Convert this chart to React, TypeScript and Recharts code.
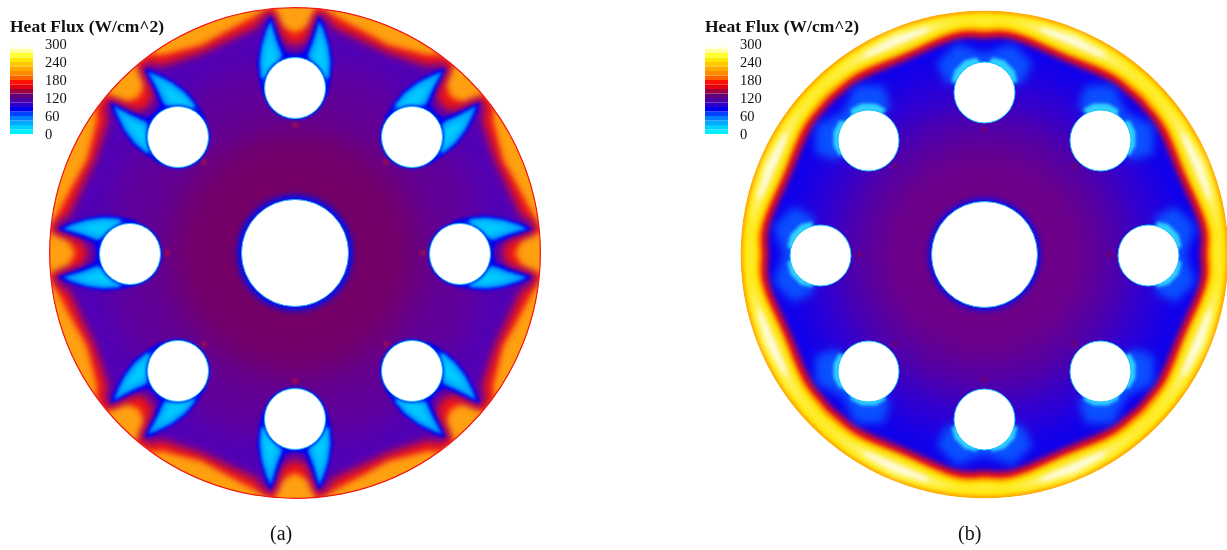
import { Bar, BarChart, Scatter, ScatterChart, XAxis, YAxis, ZAxis } from 'recharts';

type Pt = number[];

// legend
const legendTicks = [0, 60, 120, 180, 240, 300];
const legendSteps = [15, 15, 15, 15, 15, 15, 15, 15, 15, 15, 15, 15, 15, 15, 15, 15, 15, 15, 15, 15];
const legendColors = ['#00eeff', '#00d0ff', '#00a8ff', '#0080ff', '#0040ff', '#0000f0', '#2c00c8', '#4c00a0', '#600078', '#a00040', '#e00010', '#ff1000', '#ff6000', '#ff8c00', '#ffa800', '#ffc800', '#ffe800', '#ffff30', '#ffffa0', '#fffff4'];

// contour outlines, pixels from the disc centre (y down)
const holesA: Pt[] = [[0, -165], [117, -116], [165, 1], [117, 118], [0, 166], [-117, 118], [-165, 1], [-117, -116]];
const holesB: Pt[] = [[0, -162], [116, -114], [164, 1], [116, 117], [0, 165], [-116, 117], [-164, 1], [-116, -114]];
const spotsA: Pt[] = [[0, -128], [91, -91], [128, 0], [91, 91], [0, 128], [-91, 91], [-128, 0], [-91, -91]];
const spotsB: Pt[] = [[0, -125], [89, -88], [125, 0], [89, 89], [0, 125], [-89, 89], [-125, 0], [-89, -88]];

const redRingA: Pt[] = [
  [0, -220], [12, -226], [22, -248], [38, -238], [68, -222], [93, -208], [133, -198], [145, -199], [160, -191], [151, -168], [156, -156], [168, -151], [191, -160], [199, -145], [198, -133], [208, -93], [222, -68], [238, -38], [248, -22], [226, -12], [220, 0],
  [226, 12], [248, 22], [238, 38], [222, 68], [208, 93], [198, 133], [199, 145], [191, 160], [168, 151], [156, 156], [151, 168], [160, 191], [145, 199], [133, 198], [93, 208], [68, 222], [38, 238], [22, 248], [12, 226], [0, 220],
  [-12, 226], [-22, 248], [-38, 238], [-68, 222], [-93, 208], [-133, 198], [-145, 199], [-160, 191], [-151, 168], [-156, 156], [-168, 151], [-191, 160], [-199, 145], [-198, 133], [-208, 93], [-222, 68], [-238, 38], [-248, 22], [-226, 12], [-220, 0],
  [-226, -12], [-248, -22], [-238, -38], [-222, -68], [-208, -93], [-198, -133], [-199, -145], [-191, -160], [-168, -151], [-156, -156], [-151, -168], [-160, -191], [-145, -199], [-133, -198], [-93, -208], [-68, -222], [-38, -238], [-22, -248], [-12, -226],
];
const purpleRingA: Pt[] = [
  [0, -206], [12, -212], [22, -240], [30, -238], [38, -226], [68, -212], [93, -200], [133, -187], [147, -190], [154, -185], [141, -158], [146, -146], [158, -141], [185, -154], [190, -147], [187, -133], [200, -93], [212, -68], [226, -38], [238, -30], [240, -22], [212, -12], [206, 0],
  [212, 12], [240, 22], [238, 30], [226, 38], [212, 68], [200, 93], [187, 133], [190, 147], [185, 154], [158, 141], [146, 146], [141, 158], [154, 185], [147, 190], [133, 187], [93, 200], [68, 212], [38, 226], [30, 238], [22, 240], [12, 212], [0, 206],
  [-12, 212], [-22, 240], [-30, 238], [-38, 226], [-68, 212], [-93, 200], [-133, 187], [-147, 190], [-154, 185], [-141, 158], [-146, 146], [-158, 141], [-185, 154], [-190, 147], [-187, 133], [-200, 93], [-212, 68], [-226, 38], [-238, 30], [-240, 22], [-212, 12], [-206, 0],
  [-212, -12], [-240, -22], [-238, -30], [-226, -38], [-212, -68], [-200, -93], [-187, -133], [-190, -147], [-185, -154], [-158, -141], [-146, -146], [-141, -158], [-154, -185], [-147, -190], [-133, -187], [-93, -200], [-68, -212], [-38, -226], [-30, -238], [-22, -240], [-12, -212],
];
const midToneA: Pt[] = [[0, -185], [75, -180], [130, -130], [180, -75], [185, 0], [180, 75], [130, 130], [75, 180], [0, 185], [-75, 180], [-130, 130], [-180, 75], [-185, 0], [-180, -75], [-130, -130], [-75, -180]];
const coreToneA: Pt[] = [[0, -125], [50, -115], [88, -88], [115, -50], [125, 0], [115, 50], [88, 88], [50, 115], [0, 125], [-50, 115], [-88, 88], [-115, 50], [-125, 0], [-115, -50], [-88, -88], [-50, -115]];

const bluePetalsA: Pt[][] = [
  [[-24, -238], [-17, -218], [-10, -201], [0, -198], [10, -201], [17, -218], [24, -238], [29, -228], [35, -208], [38, -191], [36, -173], [32, -158], [-32, -158], [-36, -173], [-38, -191], [-35, -208], [-29, -228]],
  [[151, -185], [142, -166], [135, -149], [140, -140], [149, -135], [166, -142], [185, -151], [182, -141], [172, -122], [162, -108], [148, -97], [134, -89], [89, -134], [97, -148], [108, -162], [122, -172], [141, -182]],
  [[238, -24], [218, -17], [201, -10], [198, 0], [201, 10], [218, 17], [238, 24], [228, 29], [208, 35], [191, 38], [173, 36], [158, 32], [158, -32], [173, -36], [191, -38], [208, -35], [228, -29]],
  [[151, 185], [142, 166], [135, 149], [140, 140], [149, 135], [166, 142], [185, 151], [182, 141], [172, 122], [162, 108], [148, 97], [134, 89], [89, 134], [97, 148], [108, 162], [122, 172], [141, 182]],
  [[-24, 238], [-17, 218], [-10, 201], [0, 198], [10, 201], [17, 218], [24, 238], [29, 228], [35, 208], [38, 191], [36, 173], [32, 158], [-32, 158], [-36, 173], [-38, 191], [-35, 208], [-29, 228]],
  [[-151, 185], [-142, 166], [-135, 149], [-140, 140], [-149, 135], [-166, 142], [-185, 151], [-182, 141], [-172, 122], [-162, 108], [-148, 97], [-134, 89], [-89, 134], [-97, 148], [-108, 162], [-122, 172], [-141, 182]],
  [[-238, -24], [-218, -17], [-201, -10], [-198, 0], [-201, 10], [-218, 17], [-238, 24], [-228, 29], [-208, 35], [-191, 38], [-173, 36], [-158, 32], [-158, -32], [-173, -36], [-191, -38], [-208, -35], [-228, -29]],
  [[-151, -185], [-142, -166], [-135, -149], [-140, -140], [-149, -135], [-166, -142], [-185, -151], [-182, -141], [-172, -122], [-162, -108], [-148, -97], [-134, -89], [-89, -134], [-97, -148], [-108, -162], [-122, -172], [-141, -182]],
];
const midPetalsA: Pt[][] = [
  [[-24, -232], [-20, -216], [-13, -198], [-22, -172], [22, -172], [13, -198], [20, -216], [24, -232], [28, -224], [33, -207], [35, -191], [34, -175], [-34, -175], [-35, -191], [-33, -207], [-28, -224]],
  [[147, -181], [139, -167], [131, -149], [106, -137], [137, -106], [149, -131], [167, -139], [181, -147], [178, -139], [170, -123], [160, -110], [148, -100], [100, -148], [110, -160], [123, -170], [139, -178]],
  [[232, -24], [216, -20], [198, -13], [172, -22], [172, 22], [198, 13], [216, 20], [232, 24], [224, 28], [207, 33], [191, 35], [175, 34], [175, -34], [191, -35], [207, -33], [224, -28]],
  [[147, 181], [139, 167], [131, 149], [106, 137], [137, 106], [149, 131], [167, 139], [181, 147], [178, 139], [170, 123], [160, 110], [148, 100], [100, 148], [110, 160], [123, 170], [139, 178]],
  [[-24, 232], [-20, 216], [-13, 198], [-22, 172], [22, 172], [13, 198], [20, 216], [24, 232], [28, 224], [33, 207], [35, 191], [34, 175], [-34, 175], [-35, 191], [-33, 207], [-28, 224]],
  [[-147, 181], [-139, 167], [-131, 149], [-106, 137], [-137, 106], [-149, 131], [-167, 139], [-181, 147], [-178, 139], [-170, 123], [-160, 110], [-148, 100], [-100, 148], [-110, 160], [-123, 170], [-139, 178]],
  [[-232, -24], [-216, -20], [-198, -13], [-172, -22], [-172, 22], [-198, 13], [-216, 20], [-232, 24], [-224, 28], [-207, 33], [-191, 35], [-175, 34], [-175, -34], [-191, -35], [-207, -33], [-224, -28]],
  [[-147, -181], [-139, -167], [-131, -149], [-106, -137], [-137, -106], [-149, -131], [-167, -139], [-181, -147], [-178, -139], [-170, -123], [-160, -110], [-148, -100], [-100, -148], [-110, -160], [-123, -170], [-139, -178]],
];
const cyanPetalsA: Pt[][] = [
  [[-24, -224], [-22, -210], [-17, -196], [-22, -172], [22, -172], [17, -196], [22, -210], [24, -224], [30, -205], [32, -190], [30, -172], [-30, -172], [-32, -190], [-30, -205]],
  [[141, -175], [133, -164], [127, -151], [106, -137], [137, -106], [151, -127], [164, -133], [175, -141], [166, -124], [157, -112], [143, -100], [100, -143], [112, -157], [124, -166]],
  [[224, -24], [210, -22], [196, -17], [172, -22], [172, 22], [196, 17], [210, 22], [224, 24], [205, 30], [190, 32], [172, 30], [172, -30], [190, -32], [205, -30]],
  [[141, 175], [133, 164], [127, 151], [106, 137], [137, 106], [151, 127], [164, 133], [175, 141], [166, 124], [157, 112], [143, 100], [100, 143], [112, 157], [124, 166]],
  [[-24, 224], [-22, 210], [-17, 196], [-22, 172], [22, 172], [17, 196], [22, 210], [24, 224], [30, 205], [32, 190], [30, 172], [-30, 172], [-32, 190], [-30, 205]],
  [[-141, 175], [-133, 164], [-127, 151], [-106, 137], [-137, 106], [-151, 127], [-164, 133], [-175, 141], [-166, 124], [-157, 112], [-143, 100], [-100, 143], [-112, 157], [-124, 166]],
  [[-224, -24], [-210, -22], [-196, -17], [-172, -22], [-172, 22], [-196, 17], [-210, 22], [-224, 24], [-205, 30], [-190, 32], [-172, 30], [-172, -30], [-190, -32], [-205, -30]],
  [[-141, -175], [-133, -164], [-127, -151], [-106, -137], [-137, -106], [-151, -127], [-164, -133], [-175, -141], [-166, -124], [-157, -112], [-143, -100], [-100, -143], [-112, -157], [-124, -166]],
];

const paleRingB: Pt[] = [[0, -233], [45, -231], [91, -220], [131, -195], [165, -165], [195, -131], [220, -91], [231, -45], [233, 0], [231, 45], [220, 91], [195, 131], [165, 165], [131, 195], [91, 220], [45, 231], [0, 233], [-45, 231], [-91, 220], [-131, 195], [-165, 165], [-195, 131], [-220, 91], [-231, 45], [-233, 0], [-231, -45], [-220, -91], [-195, -131], [-165, -165], [-131, -195], [-91, -220], [-45, -231]];
const whiteLobesB: Pt[][] = [
  [[57, -227], [90, -216], [121, -200], [117, -195], [87, -211], [55, -221]],
  [[227, -57], [216, -90], [200, -121], [195, -117], [211, -87], [221, -55]],
  [[227, 57], [216, 90], [200, 121], [195, 117], [211, 87], [221, 55]],
  [[57, 227], [90, 216], [121, 200], [117, 195], [87, 211], [55, 221]],
  [[-57, 227], [-90, 216], [-121, 200], [-117, 195], [-87, 211], [-55, 221]],
  [[-227, 57], [-216, 90], [-200, 121], [-195, 117], [-211, 87], [-221, 55]],
  [[-227, -57], [-216, -90], [-200, -121], [-195, -117], [-211, -87], [-221, -55]],
  [[-57, -227], [-90, -216], [-121, -200], [-117, -195], [-87, -211], [-55, -221]],
];
const yellowRingB: Pt[] = [
  [0, -231], [20, -235], [49, -226], [85, -207], [133, -191], [156, -171], [166, -164], [171, -156], [191, -133], [207, -85], [226, -49], [235, -20], [231, 0],
  [235, 20], [226, 49], [207, 85], [191, 133], [171, 156], [166, 164], [156, 171], [133, 191], [85, 207], [49, 226], [20, 235], [0, 231],
  [-20, 235], [-49, 226], [-85, 207], [-133, 191], [-156, 171], [-166, 164], [-171, 156], [-191, 133], [-207, 85], [-226, 49], [-235, 20], [-231, 0],
  [-235, -20], [-226, -49], [-207, -85], [-191, -133], [-171, -156], [-166, -164], [-156, -171], [-133, -191], [-85, -207], [-49, -226], [-20, -235],
];
const orangeRingB: Pt[] = [
  [0, -225], [19, -229], [48, -219], [83, -201], [129, -186], [152, -166], [161, -159], [166, -152], [186, -129], [201, -83], [219, -48], [229, -19], [225, 0],
  [229, 19], [219, 48], [201, 83], [186, 129], [166, 152], [161, 159], [152, 166], [129, 186], [83, 201], [48, 219], [19, 229], [0, 225],
  [-19, 229], [-48, 219], [-83, 201], [-129, 186], [-152, 166], [-161, 159], [-166, 152], [-186, 129], [-201, 83], [-219, 48], [-229, 19], [-225, 0],
  [-229, -19], [-219, -48], [-201, -83], [-186, -129], [-166, -152], [-161, -159], [-152, -166], [-129, -186], [-83, -201], [-48, -219], [-19, -229],
];
const redRingB: Pt[] = [
  [0, -221], [19, -225], [47, -216], [82, -198], [127, -183], [149, -163], [158, -156], [163, -149], [183, -127], [198, -82], [216, -47], [225, -19], [221, 0],
  [225, 19], [216, 47], [198, 82], [183, 127], [163, 149], [158, 156], [149, 163], [127, 183], [82, 198], [47, 216], [19, 225], [0, 221],
  [-19, 225], [-47, 216], [-82, 198], [-127, 183], [-149, 163], [-158, 156], [-163, 149], [-183, 127], [-198, 82], [-216, 47], [-225, 19], [-221, 0],
  [-225, -19], [-216, -47], [-198, -82], [-183, -127], [-163, -149], [-158, -156], [-149, -163], [-127, -183], [-82, -198], [-47, -216], [-19, -225],
];
const blueRingB: Pt[] = [
  [0, -215], [18, -219], [46, -210], [79, -193], [124, -177], [145, -159], [154, -152], [159, -145], [177, -124], [193, -79], [210, -46], [219, -18], [215, 0],
  [219, 18], [210, 46], [193, 79], [177, 124], [159, 145], [154, 152], [145, 159], [124, 177], [79, 193], [46, 210], [18, 219], [0, 215],
  [-18, 219], [-46, 210], [-79, 193], [-124, 177], [-145, 159], [-154, 152], [-159, 145], [-177, 124], [-193, 79], [-210, 46], [-219, 18], [-215, 0],
  [-219, -18], [-210, -46], [-193, -79], [-177, -124], [-159, -145], [-154, -152], [-145, -159], [-124, -177], [-79, -193], [-46, -210], [-18, -219],
];
const toneOuterB: Pt[] = [[0, -190], [73, -176], [134, -134], [176, -73], [190, 0], [176, 73], [134, 134], [73, 176], [0, 190], [-73, 176], [-134, 134], [-176, 73], [-190, 0], [-176, -73], [-134, -134], [-73, -176]];
const toneMidB: Pt[] = [[0, -150], [57, -139], [106, -106], [139, -57], [150, 0], [139, 57], [106, 106], [57, 139], [0, 150], [-57, 139], [-106, 106], [-139, 57], [-150, 0], [-139, -57], [-106, -106], [-57, -139]];
const toneCoreB: Pt[] = [[0, -110], [42, -102], [78, -78], [102, -42], [110, 0], [102, 42], [78, 78], [42, 102], [0, 110], [-42, 102], [-78, 78], [-102, 42], [-110, 0], [-102, -42], [-78, -78], [-42, -102]];
const midPatchesB: Pt[][] = [
  [[-28, -211], [0, -201], [28, -211], [48, -191], [38, -171], [-38, -171], [-48, -191]],
  [[129, -169], [142, -142], [169, -129], [169, -101], [148, -94], [94, -148], [101, -169]],
  [[211, -28], [201, 0], [211, 28], [191, 48], [171, 38], [171, -38], [191, -48]],
  [[129, 169], [142, 142], [169, 129], [169, 101], [148, 94], [94, 148], [101, 169]],
  [[-28, 211], [0, 201], [28, 211], [48, 191], [38, 171], [-38, 171], [-48, 191]],
  [[-129, 169], [-142, 142], [-169, 129], [-169, 101], [-148, 94], [-94, 148], [-101, 169]],
  [[-211, -28], [-201, 0], [-211, 28], [-191, 48], [-171, 38], [-171, -38], [-191, -48]],
  [[-129, -169], [-142, -142], [-169, -129], [-169, -101], [-148, -94], [-94, -148], [-101, -169]],
];
const cyanPatchesB: Pt[][] = [
  [[-33, -172], [-30, -184], [-20, -194], [-8, -197], [-3, -190], [3, -190], [8, -197], [20, -194], [30, -184], [33, -172]],
  [[98, -145], [109, -151], [123, -151], [134, -145], [132, -136], [136, -132], [145, -134], [151, -123], [151, -109], [145, -98]],
  [[172, -33], [184, -30], [194, -20], [197, -8], [190, -3], [190, 3], [197, 8], [194, 20], [184, 30], [172, 33]],
  [[98, 145], [109, 151], [123, 151], [134, 145], [132, 136], [136, 132], [145, 134], [151, 123], [151, 109], [145, 98]],
  [[-33, 172], [-30, 184], [-20, 194], [-8, 197], [-3, 190], [3, 190], [8, 197], [20, 194], [30, 184], [33, 172]],
  [[-98, 145], [-109, 151], [-123, 151], [-134, 145], [-132, 136], [-136, 132], [-145, 134], [-151, 123], [-151, 109], [-145, 98]],
  [[-172, -33], [-184, -30], [-194, -20], [-197, -8], [-190, -3], [-190, 3], [-197, 8], [-194, 20], [-184, 30], [-172, 33]],
  [[-98, -145], [-109, -151], [-123, -151], [-134, -145], [-132, -136], [-136, -132], [-145, -134], [-151, -123], [-151, -109], [-145, -98]],
];

const toXY = (pts: Pt[]) => pts.map(([x, y]) => ({ x, y }));
const toCircles = (pts: Pt[], r: number) => pts.map(([x, y]) => ({ x, y, z: Math.PI * r * r }));
const noSymbol = () => <g />;

// a filled contour: the scatter's joint line, closed, with the symbols switched off
function contour(key: string, pts: Pt[], fill: string, soft = 0, joint = 'linearClosed') {
  return (
    <Scatter
      key={key}
      data={toXY(pts)}
      className={`soft${soft}`}
      line={{ fill, stroke: 'none' }}
      lineJointType={joint as any}
      shape={noSymbol}
      isAnimationActive={false}
    />
  );
}

function circles(key: string, pts: Pt[], r: number, fill: string, soft = 0, stroke = 'none', strokeWidth = 0) {
  return (
    <Scatter
      key={key}
      data={toCircles(pts, r)}
      className={`soft${soft}`}
      fill={fill}
      stroke={stroke}
      strokeWidth={strokeWidth}
      isAnimationActive={false}
    />
  );
}

function Panel({ left, width, cx, cy, children }: { left: number; width: number; cx: number; cy: number; children: any }) {
  return (
    <div style={{ position: 'absolute', left, top: 0 }}>
      <ScatterChart width={width} height={550} margin={{ top: 0, right: 0, bottom: 0, left: 0 }}>
        <XAxis type="number" dataKey="x" hide domain={[left - cx, left + width - cx]} />
        <YAxis type="number" dataKey="y" hide reversed domain={[-cy, 550 - cy]} />
        <ZAxis type="number" dataKey="z" domain={[0, 400000]} range={[0, 400000]} />
        {children}
      </ScatterChart>
    </div>
  );
}

function ColorBar({ left }: { left: number }) {
  const row: Record<string, number | string> = { name: 'flux' };
  legendSteps.forEach((v, i) => (row[`b${i}`] = v));
  return (
    <div style={{ position: 'absolute', left, top: 34 }}>
      <BarChart width={80} height={110} data={[row]} barCategoryGap={0} margin={{ top: 10, right: 0, bottom: 10, left: 0 }}>
        <XAxis dataKey="name" hide />
        <YAxis
          orientation="right"
          type="number"
          domain={[0, 300]}
          ticks={legendTicks}
          width={57}
          axisLine={false}
          tickLine={false}
          tickMargin={6}
          interval={0}
          tick={{ fill: '#111', fontSize: 14.5, textAnchor: 'start', fontFamily: '"Liberation Serif"' }}
        />
        {legendSteps.map((_, i) => (
          <Bar key={i} dataKey={`b${i}`} stackId="flux" fill={legendColors[i]} isAnimationActive={false} />
        ))}
      </BarChart>
    </div>
  );
}

const titleStyle = { position: 'absolute', top: 16, fontFamily: '"Liberation Serif"', fontWeight: 700, fontSize: 17.5, lineHeight: '20px', color: '#111', whiteSpace: 'nowrap' } as const;
const captionStyle = { position: 'absolute', top: 521, fontFamily: '"Liberation Serif"', fontSize: 20, lineHeight: '24px', color: '#111' } as const;

export default function App() {
  return (
    <div style={{ position: 'absolute', left: 0, top: 0, width: 1227, height: 550, overflow: 'hidden', background: '#fff' }}>
      <style>{`.soft1{filter:blur(1px)}.soft2{filter:blur(2px)}.soft3{filter:blur(3px)}.soft12{filter:blur(12px)}`}</style>
      <Panel left={0} width={614} cx={295} cy={253}>
        {circles('disc', [[0, 0]], 246, '#ffa010')}
        {contour('red', redRingA, '#f01414', 2)}
        {contour('purple', purpleRingA, '#5000b8', 3)}
        {contour('mid', midToneA, '#620098', 12)}
        {contour('core', coreToneA, '#740068', 12)}
        {circles('spots', spotsA, 2.5, '#b01040', 1)}
        {bluePetalsA.map((p, i) => contour(`blue${i}`, p, '#0000f0', 1))}
        {midPetalsA.map((p, i) => contour(`midp${i}`, p, '#0098ff', 1))}
        {cyanPetalsA.map((p, i) => contour(`cyan${i}`, p, '#00ccff', 2))}
        {circles('haloBig', [[0, 0]], 58, '#0010f0', 2)}
        {circles('haloSmall', holesA, 32, '#0020f0', 1)}
        {circles('big', [[0, 0]], 53.5, '#fff', 0, '#20a0ff', 1)}
        {circles('holes', holesA, 30.5, '#fff', 0, '#20b8ff', 1)}
        {circles('rim', [[0, 0]], 245.5, 'none', 0, '#f01818', 1.5)}
        {circles('mask', [[0, 0]], 276, 'none', 0, '#fff', 60)}
      </Panel>
      <Panel left={614} width={613} cx={984.5} cy={254.5}>
        {circles('disc', [[0, 0]], 244, '#ffa800')}
        {circles('yellow', [[0, 0]], 241, '#ffe800', 1)}
        {contour('pale', paleRingB, '#fff8a0', 3)}
        {whiteLobesB.map((p, i) => contour(`white${i}`, p, '#ffffff', 2))}
        {contour('yellowIn', yellowRingB, '#ffe600', 2, 'basisClosed')}
        {contour('orange', orangeRingB, '#ff9400', 1, 'basisClosed')}
        {contour('red', redRingB, '#f01010', 1, 'basisClosed')}
        {contour('blue', blueRingB, '#0a00f0', 2, 'basisClosed')}
        {contour('toneOuter', toneOuterB, '#2c00d8', 12)}
        {contour('toneMid', toneMidB, '#5200a8', 12)}
        {contour('toneCore', toneCoreB, '#6e0088', 12)}
        {circles('spots', spotsB, 2.5, '#7a0060', 1)}
        {midPatchesB.map((p, i) => contour(`mid${i}`, p, '#0a50ff', 3))}
        {cyanPatchesB.map((p, i) => contour(`cyan${i}`, p, '#30d0ff', 1))}
        {circles('haloBig', [[0, 0]], 56, '#0010f0', 2)}
        {circles('big', [[0, 0]], 53, '#fff', 0, '#20a0ff', 1)}
        {circles('holes', holesB, 30.5, '#fff', 0, '#10c0ff', 1)}
        {circles('mask', [[0, 0]], 274, 'none', 0, '#fff', 60)}
      </Panel>
      <ColorBar left={10} />
      <ColorBar left={705} />
      <div style={{ ...titleStyle, left: 10 }}>Heat Flux (W/cm^2)</div>
      <div style={{ ...titleStyle, left: 705 }}>Heat Flux (W/cm^2)</div>
      <div style={{ ...captionStyle, left: 270 }}>(a)</div>
      <div style={{ ...captionStyle, left: 958 }}>(b)</div>
    </div>
  );
}
